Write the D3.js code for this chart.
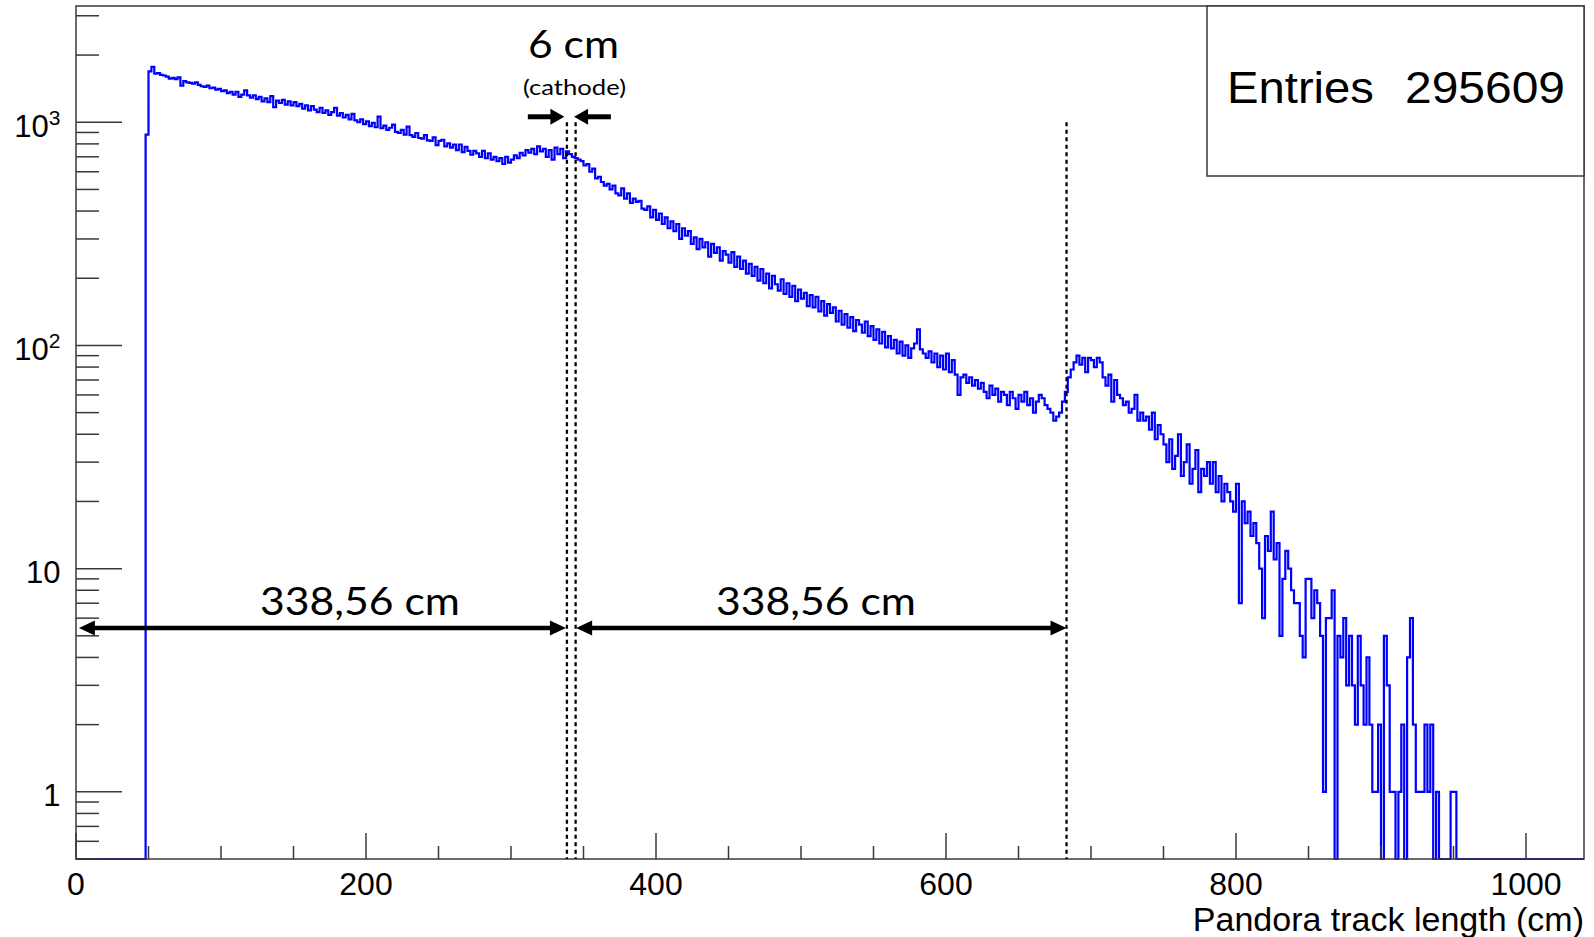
<!DOCTYPE html>
<html><head><meta charset="utf-8">
<script src="https://cdn.jsdelivr.net/npm/d3@7"></script>
<style>body{margin:0;background:#fff;} svg{display:block;}</style>
</head><body>
<svg id="c" width="1594" height="937"></svg>
<script>
// ---- data ----
const xDomain = [0, 1040];
const yDomain = [0.5, 3318];
const binStart = 48;
const binWidth = 2;
const counts = [
 880,1690,1770,1650,1660,1630,1620,1600,1570,1580,
 1560,1590,1460,1530,1510,1500,1490,1510,1470,1450,
 1440,1460,1420,1430,1400,1410,1380,1390,1350,1370,
 1330,1370,1300,1330,1390,1320,1290,1320,1270,1300,
 1240,1280,1230,1310,1170,1250,1220,1260,1200,1240,
 1190,1230,1180,1210,1150,1190,1130,1180,1140,1110,
 1160,1100,1130,1080,1110,1160,1070,1100,1050,1080,
 1030,1090,1020,1000,1030,980,1010,960,995,950,
 1060,940,965,925,945,975,905,895,925,880,
 955,875,860,895,850,845,875,830,825,855,
 790,825,835,780,805,770,795,750,795,735,
 775,745,715,745,725,700,745,690,725,680,
 700,670,690,650,700,660,680,710,690,730,
 710,750,730,760,720,780,740,760,700,750,
 680,770,720,760,690,740,720,700,690,680,
 670,640,650,600,620,560,570,540,520,530,
 500,520,480,470,505,455,480,435,455,440,
 445,410,405,420,375,405,365,390,350,375,
 335,360,325,350,300,335,310,325,285,305,
 270,300,275,290,250,285,260,275,240,265,
 255,235,262,225,250,220,240,210,232,205,
 225,195,220,190,210,180,205,188,176,198,
 170,190,165,185,158,178,162,172,150,168,
 148,165,142,158,136,153,140,148,128,143,
 124,138,120,134,116,130,124,114,128,110,
 122,106,118,102,115,98,110,97,106,92,
 104,90,100,88,97,102,118,96,92,88,
 94,84,92,80,90,78,92,76,86,74,
 60,72,74,68,72,66,70,64,68,62,
 58,66,60,64,56,62,60,54,62,58,
 52,60,56,62,54,58,50,56,60,58,
 54,52,50,46,48,50,56,62,72,78,
 84,90,82,88,76,88,86,80,88,84,
 72,66,74,56,70,60,58,54,56,50,
 52,60,46,50,46,48,42,50,38,44,
 40,36,30,38,28,32,40,26,30,36,
 24,28,34,22,28,26,30,24,30,22,
 26,20,24,22,20,18,24,7,20,16,
 18,14,16,13,10,6,14,12,18,11,
 13,5,9,12,10,8,7,7,5,4,
 9,9,6,8,7,5,1,6,6,8,
 0,5,4,6,3,5,3,2,5,3,
 2,4,2,1,1,2,0,5,3,1,
 1,0,1,2,0,4,6,2,1,1,
 1,2,1,2,0,1,0,0,0,0,
 1,1
];
const xMajorTicks = [0, 200, 400, 600, 800, 1000];
const xTickLabels = ["0", "200", "400", "600", "800", "1000"];
const xMinorStep = 50;
const yDecades = [1, 10, 100, 1000];
const yDecadeBase = ["1", "10", "10", "10"];
const yDecadeExp = ["", "", "2", "3"];
const xTitle = "Pandora track length (cm)";
const statsLabel = "Entries";
const statsValue = "295609";
const cathodeLines = [338.56, 344.56, 683.12];
const spanLabels = ["338,56 cm", "338,56 cm"];
const gapLabel = "6 cm";
const gapSubLabel = "(cathode)";

// ---- drawing ----
const svg = d3.select("#c");
const F = {l: 76, t: 6, r: 1584, b: 859};
const x = d3.scaleLinear().domain(xDomain).range([F.l, F.r]);
const y = d3.scaleLog().domain(yDomain).range([F.b, F.t]);
const frameColor = "#3a3a3a";
const rootFont = "'Liberation Sans', Arial, Helvetica, sans-serif";
const pptFont = "Lato, 'Open Sans', sans-serif";

svg.append("rect").attr("width", 1594).attr("height", 937).attr("fill", "#fff");

// histogram outline
const pts = [{x: xDomain[0], v: 0}];
counts.forEach((c, i) => pts.push({x: binStart + i * binWidth, v: c}));
pts.push({x: binStart + counts.length * binWidth, v: 0});
pts.push({x: xDomain[1], v: 0});
const yv = v => v > 0 ? y(v) : F.b;
const line = d3.line().x(d => x(d.x)).y(d => yv(d.v)).curve(d3.curveStepAfter);
svg.append("path").attr("d", line(pts)).attr("fill", "none")
  .attr("stroke", "#0000ff").attr("stroke-width", 2.2).attr("stroke-linejoin", "miter");

// frame
const g = svg.append("g").attr("stroke", frameColor).attr("stroke-width", 1.5).attr("fill", "none");
g.append("rect").attr("x", F.l).attr("y", F.t).attr("width", F.r - F.l).attr("height", F.b - F.t);

// x ticks
const xMinor = d3.range(xDomain[0], xDomain[1] + 0.001, xMinorStep).filter(v => !xMajorTicks.includes(v));
xMinor.forEach(v => g.append("line").attr("x1", x(v)).attr("x2", x(v)).attr("y1", F.b).attr("y2", F.b - 13));
xMajorTicks.forEach(v => g.append("line").attr("x1", x(v)).attr("x2", x(v)).attr("y1", F.b).attr("y2", F.b - 26));
xMajorTicks.forEach((v, i) => svg.append("text").attr("x", x(v)).attr("y", 895)
  .attr("text-anchor", "middle").attr("font-family", rootFont).attr("font-size", 32).attr("fill", "#000")
  .text(xTickLabels[i]));

// y ticks
const yMinor = [];
[0.1, 1, 10, 100, 1000].forEach(d => { for (let k = 2; k <= 9; k++) { const v = d * k; if (v >= yDomain[0] && v <= yDomain[1]) yMinor.push(v); } });
yMinor.forEach(v => g.append("line").attr("x1", F.l).attr("x2", F.l + 23).attr("y1", y(v)).attr("y2", y(v)));
yDecades.forEach(v => g.append("line").attr("x1", F.l).attr("x2", F.l + 46).attr("y1", y(v)).attr("y2", y(v)));
yDecades.forEach((v, i) => {
  const t = svg.append("text").attr("x", 60.5).attr("y", y(v) + 14.5).attr("text-anchor", "end")
    .attr("font-family", rootFont).attr("font-size", 31).attr("fill", "#000");
  t.append("tspan").text(yDecadeBase[i]);
  if (yDecadeExp[i]) t.append("tspan").attr("font-size", 21).attr("dy", -12).text(yDecadeExp[i]);
});

// x title
svg.append("text").attr("x", F.r).attr("y", 931).attr("text-anchor", "end")
  .attr("font-family", rootFont).attr("font-size", 34).attr("fill", "#000").text(xTitle);

// stats box
svg.append("rect").attr("x", 1207).attr("y", F.t).attr("width", F.r - 1207).attr("height", 176 - F.t)
  .attr("fill", "#fff").attr("stroke", frameColor).attr("stroke-width", 1.5);
svg.append("text").attr("x", 1227).attr("y", 103).attr("font-family", rootFont).attr("font-size", 44)
  .attr("textLength", 147).attr("lengthAdjust", "spacingAndGlyphs").text(statsLabel);
svg.append("text").attr("x", 1565).attr("y", 103).attr("text-anchor", "end").attr("font-family", rootFont).attr("font-size", 44)
  .attr("textLength", 160).attr("lengthAdjust", "spacingAndGlyphs").text(statsValue);

// annotations: dotted lines
cathodeLines.forEach(c => svg.append("line").attr("x1", x(c)).attr("x2", x(c))
  .attr("y1", y(1000)).attr("y2", F.b).attr("stroke", "#000").attr("stroke-width", 2.3)
  .attr("stroke-dasharray", "4,3.5"));

// arrows
function arrow(xa, xb, yy, both, headL, headH, w) {
  const dir = Math.sign(xb - xa);
  const s = both ? xa + dir * headL * 0.8 : xa;
  svg.append("line").attr("x1", s).attr("x2", xb - dir * headL * 0.8).attr("y1", yy).attr("y2", yy)
    .attr("stroke", "#000").attr("stroke-width", w);
  const head = (tip, d) => svg.append("path")
    .attr("d", `M${tip},${yy} L${tip - d * headL},${yy - headH / 2} L${tip - d * headL},${yy + headH / 2} Z`)
    .attr("fill", "#000");
  head(xb, dir);
  if (both) head(xa, -dir);
}
const yArrow = y(5.42);
arrow(x(2), x(337.9), yArrow, true, 16, 15, 4.5);
arrow(x(344.9), x(683.1), yArrow, true, 16, 15, 4.5);
const ySmall = y(1058);
arrow(x(311.6), x(336.8), ySmall, false, 14, 16, 5);
arrow(x(368.9), x(343.5), ySmall, false, 14, 16, 5);

// annotation text
svg.append("text").attr("x", 260).attr("y", 615).attr("font-family", pptFont).attr("font-size", 39)
  .attr("textLength", 200).attr("lengthAdjust", "spacingAndGlyphs").text(spanLabels[0]);
svg.append("text").attr("x", 716).attr("y", 615).attr("font-family", pptFont).attr("font-size", 39)
  .attr("textLength", 200).attr("lengthAdjust", "spacingAndGlyphs").text(spanLabels[1]);
svg.append("text").attr("x", 528).attr("y", 58).attr("font-family", pptFont).attr("font-size", 39)
  .attr("textLength", 91).attr("lengthAdjust", "spacingAndGlyphs").text(gapLabel);
svg.append("text").attr("x", 523).attr("y", 95).attr("font-family", pptFont).attr("font-size", 22)
  .attr("textLength", 103).attr("lengthAdjust", "spacingAndGlyphs").text(gapSubLabel);
</script>
</body></html>
